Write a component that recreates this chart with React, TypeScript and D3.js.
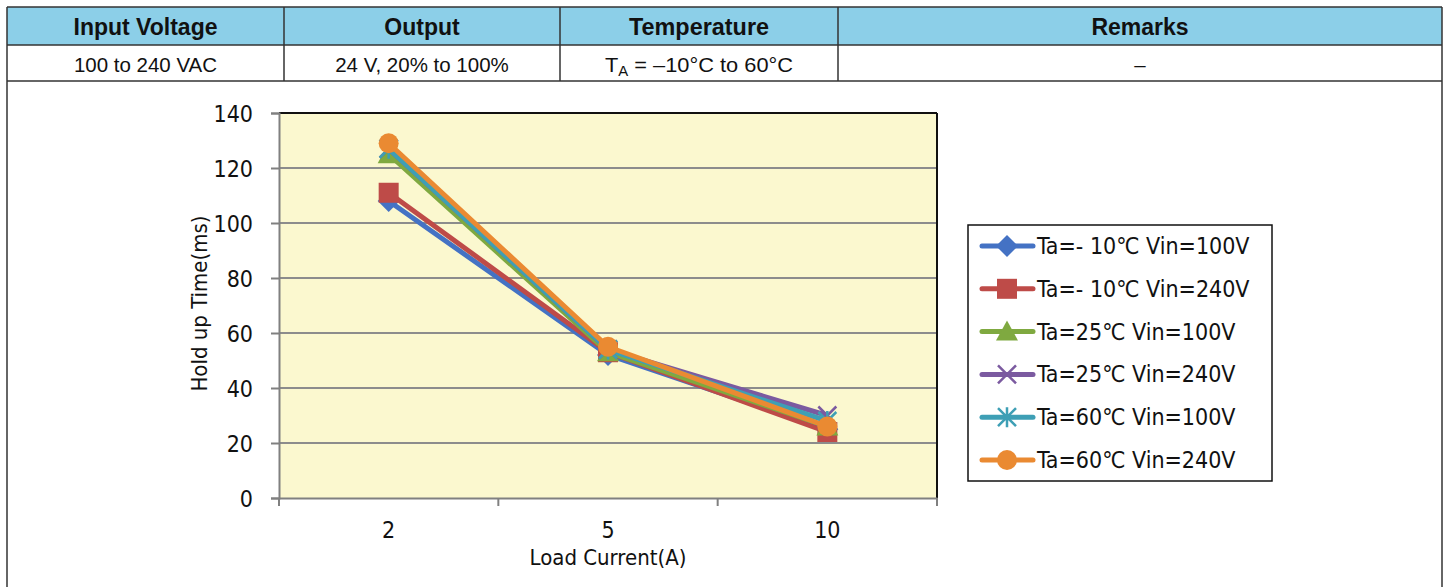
import React, { useEffect, useRef } from 'react';
import * as d3 from 'd3';

const loads = ['2', '5', '10'];
const yTicks = [0, 20, 40, 60, 80, 100, 120, 140];

const seriesNames = [
  'Ta=- 10℃ Vin=100V',
  'Ta=- 10℃ Vin=240V',
  'Ta=25℃ Vin=100V',
  'Ta=25℃ Vin=240V',
  'Ta=60℃ Vin=100V',
  'Ta=60℃ Vin=240V',
];
const seriesColors = ['#4472c4', '#be4b48', '#7fa940', '#7b5aa0', '#3e9fb5', '#ea8a32'];
const seriesMarkers = ['diamond', 'square', 'triangle', 'x', 'star', 'circle'];

const ta10v100 = [108, 52, 25];
const ta10v240 = [111, 53, 24];
const ta25v100 = [125, 53, 26];
const ta25v240 = [127, 54, 30];
const ta60v100 = [127, 54, 28];
const ta60v240 = [129, 55, 26];
const seriesValues = [ta10v100, ta10v240, ta25v100, ta25v240, ta60v100, ta60v240];

const headerCols = ['Input Voltage', 'Output', 'Temperature', 'Remarks'];
const rowCells = ['100 to 240 VAC', '24 V, 20% to 100%', '', '–'];

const App: React.FC = () => {
  const svgRef = useRef<SVGSVGElement>(null);

  useEffect(() => {
    if (!svgRef.current) return;
    const svg = d3.select(svgRef.current);
    svg.selectAll('*').remove();

    const H = 587;
    const colX = [7, 284, 560, 838, 1442];
    const rowY = [7, 45, 81];
    const sans = '"Liberation Sans", Arial, sans-serif';

    // table
    svg.append('rect').attr('x', colX[0]).attr('y', rowY[0])
      .attr('width', colX[4] - colX[0]).attr('height', rowY[1] - rowY[0])
      .attr('fill', '#8ccfe8');
    const tb = svg.append('g').attr('stroke', '#333').attr('stroke-width', 1.5);
    tb.append('line').attr('x1', colX[0]).attr('x2', colX[4]).attr('y1', rowY[0]).attr('y2', rowY[0]);
    tb.append('line').attr('x1', colX[0]).attr('x2', colX[4]).attr('y1', rowY[1]).attr('y2', rowY[1]);
    tb.append('line').attr('x1', colX[0]).attr('x2', colX[4]).attr('y1', rowY[2]).attr('y2', rowY[2]);
    tb.append('line').attr('x1', colX[0]).attr('x2', colX[0]).attr('y1', rowY[0]).attr('y2', H + 5);
    tb.append('line').attr('x1', colX[4]).attr('x2', colX[4]).attr('y1', rowY[0]).attr('y2', H + 5);
    colX.slice(1, 4).forEach(x => {
      tb.append('line').attr('x1', x).attr('x2', x).attr('y1', rowY[0]).attr('y2', rowY[2]);
    });
    headerCols.forEach((h, i) => {
      const t = svg.append('text')
        .attr('x', (colX[i] + colX[i + 1]) / 2).attr('y', rowY[0] + 28)
        .attr('text-anchor', 'middle')
        .style('font-family', sans)
        .style('font-weight', 'bold').style('font-size', '23px').attr('fill', '#111')
        .text(h);
      if (i === 2) t.attr('textLength', 140).attr('lengthAdjust', 'spacingAndGlyphs');
    });
    rowCells.forEach((c, i) => {
      const t = svg.append('text')
        .attr('x', (colX[i] + colX[i + 1]) / 2).attr('y', rowY[1] + 27)
        .attr('text-anchor', 'middle')
        .style('font-family', sans)
        .style('font-size', '20.5px').attr('fill', '#111');
      if (i === 2) {
        t.attr('textLength', 188).attr('lengthAdjust', 'spacingAndGlyphs');
        t.append('tspan').text('T');
        t.append('tspan').attr('dy', 4).style('font-size', '14px').text('A');
        t.append('tspan').attr('dy', -4).text(' = –10°C to 60°C');
      } else {
        t.text(c);
      }
    });

    // chart
    const left = 279, right = 937, top = 113, bottom = 498;
    const x = d3.scaleBand<string>().domain(loads).range([left, right]);
    const y = d3.scaleLinear().domain([0, 140]).range([bottom, top]);
    const font = '"DejaVu Sans Condensed", "Open Sans", sans-serif';

    svg.append('rect').attr('x', left).attr('y', top)
      .attr('width', right - left).attr('height', bottom - top).attr('fill', '#fbf8cf');

    svg.append('g').selectAll('line').data(yTicks.filter(t => t > 0 && t < 140)).join('line')
      .attr('x1', left).attr('x2', right)
      .attr('y1', d => y(d)).attr('y2', d => y(d))
      .attr('stroke', '#8c8c8c').attr('stroke-width', 2);

    // plot border top/right black
    svg.append('line').attr('x1', left).attr('x2', right).attr('y1', top).attr('y2', top)
      .attr('stroke', '#111').attr('stroke-width', 2);
    svg.append('line').attr('x1', right).attr('x2', right).attr('y1', top).attr('y2', bottom)
      .attr('stroke', '#111').attr('stroke-width', 2);

    // y axis
    const yAxis = svg.append('g').attr('transform', `translate(${left},0)`)
      .call(d3.axisLeft(y).tickValues(yTicks).tickSize(8).tickPadding(18));
    yAxis.select('.domain').attr('stroke', '#808080').attr('stroke-width', 2);
    yAxis.selectAll('.tick line').attr('stroke', '#808080').attr('stroke-width', 2);
    yAxis.selectAll('.tick text').style('font-family', font).style('font-size', '23px').attr('fill', '#111').attr('dy', '0.35em');

    // x axis
    const xAxis = svg.append('g').attr('transform', `translate(0,${bottom})`)
      .call(d3.axisBottom(x).tickSize(0).tickPadding(24));
    xAxis.select('.domain').attr('stroke', '#808080').attr('stroke-width', 2);
    xAxis.selectAll('.tick text').style('font-family', font).style('font-size', '23px').attr('fill', '#111');
    const bounds = [left, ...loads.map(l => (x(l) as number) + x.bandwidth())];
    xAxis.selectAll('.bt').data(bounds).join('line')
      .attr('x1', d => d).attr('x2', d => d).attr('y1', 0).attr('y2', 8)
      .attr('stroke', '#808080').attr('stroke-width', 2);

    svg.append('text').attr('x', (left + right) / 2).attr('y', 565).attr('text-anchor', 'middle')
      .style('font-family', font).style('font-size', '22px').attr('fill', '#111')
      .text('Load Current(A)');
    svg.append('text')
      .attr('transform', `translate(207,${(top + bottom) / 2 - 2}) rotate(-90)`)
      .attr('text-anchor', 'middle')
      .style('font-family', font).style('font-size', '22px').attr('fill', '#111')
      .text('Hold up Time(ms)');

    const drawMarker = (g: any, kind: string, cx: number, cy: number, color: string) => {
      if (kind === 'diamond') {
        g.append('path').attr('d', `M${cx},${cy - 11}L${cx + 11},${cy}L${cx},${cy + 11}L${cx - 11},${cy}Z`).attr('fill', color);
      } else if (kind === 'square') {
        g.append('rect').attr('x', cx - 10).attr('y', cy - 10).attr('width', 20).attr('height', 20).attr('fill', color);
      } else if (kind === 'triangle') {
        g.append('path').attr('d', `M${cx},${cy - 11}L${cx + 11},${cy + 9}L${cx - 11},${cy + 9}Z`).attr('fill', color);
      } else if (kind === 'x') {
        g.append('path').attr('d', `M${cx - 9},${cy - 9}L${cx + 9},${cy + 9}M${cx - 9},${cy + 9}L${cx + 9},${cy - 9}`)
          .attr('stroke', color).attr('stroke-width', 2.5).attr('fill', 'none');
      } else if (kind === 'star') {
        g.append('path').attr('d', `M${cx - 9},${cy - 9}L${cx + 9},${cy + 9}M${cx - 9},${cy + 9}L${cx + 9},${cy - 9}M${cx},${cy - 10}L${cx},${cy + 10}`)
          .attr('stroke', color).attr('stroke-width', 2.5).attr('fill', 'none');
      } else {
        g.append('circle').attr('cx', cx).attr('cy', cy).attr('r', 10).attr('fill', color);
      }
    };

    const line = d3.line<number>()
      .x((_, i) => (x(loads[i]) as number) + x.bandwidth() / 2)
      .y(d => y(d));

    seriesValues.forEach((vals, si) => {
      const g = svg.append('g');
      g.append('path').attr('d', line(vals)).attr('fill', 'none')
        .attr('stroke', seriesColors[si]).attr('stroke-width', 5).attr('stroke-linejoin', 'round');
      vals.forEach((v, i) => drawMarker(g, seriesMarkers[si], (x(loads[i]) as number) + x.bandwidth() / 2, y(v), seriesColors[si]));
    });

    // legend
    const lg = svg.append('g');
    lg.append('rect').attr('x', 968).attr('y', 225).attr('width', 304).attr('height', 256)
      .attr('fill', '#fff').attr('stroke', '#111').attr('stroke-width', 1.5);
    const legendY = d3.scalePoint<string>().domain(seriesNames).range([246, 460]);
    seriesNames.forEach((name, si) => {
      const ly = legendY(name) as number;
      lg.append('line').attr('x1', 982).attr('x2', 1033).attr('y1', ly).attr('y2', ly)
        .attr('stroke', seriesColors[si]).attr('stroke-width', 5).attr('stroke-linecap', 'round');
      drawMarker(lg, seriesMarkers[si], 1007, ly, seriesColors[si]);
      lg.append('text').attr('x', 1037).attr('y', ly + 8)
        .style('font-family', font).style('font-size', '23px').attr('fill', '#111')
        .text(name);
    });
  }, []);

  return (
    <svg ref={svgRef} width={1450} height={587}
      style={{ position: 'absolute', left: 0, top: 0, background: '#fff' }} />
  );
};

export default App;
